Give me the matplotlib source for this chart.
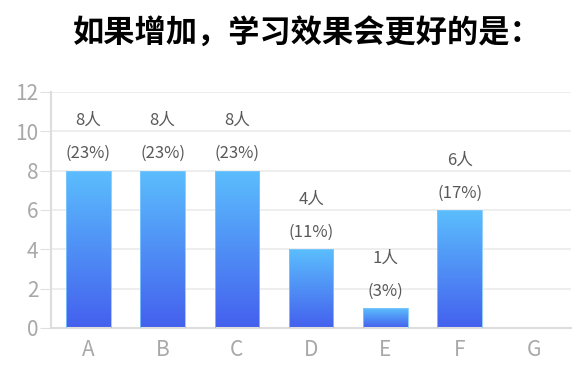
import matplotlib
matplotlib.use('Agg')
import matplotlib.pyplot as plt
import numpy as np
from matplotlib.colors import LinearSegmentedColormap

plt.rcParams['font.family'] = ['Noto Sans CJK SC', 'DejaVu Sans']

categories = ['A', 'B', 'C', 'D', 'E', 'F', 'G']
counts = [8, 8, 8, 4, 1, 6, 0]
percents = ['23%', '23%', '23%', '11%', '3%', '17%', '0%']
title = '如果增加，学习效果会更好的是：'

fig = plt.figure(figsize=(5.87, 3.80), dpi=100)
ax = fig.add_axes([0.087, 0.137, 0.886, 0.621])

grad = LinearSegmentedColormap.from_list('g', ['#4460ee', '#5bbefd'])
x = np.arange(len(categories))
bars = ax.bar(x, counts, width=0.6, color='none', edgecolor='#7fc8ff', linewidth=0.6, zorder=3)
g = np.linspace(0, 1, 256).reshape(-1, 1)
for b, c in zip(bars, counts):
    if c <= 0:
        continue
    x0 = b.get_x()
    im = ax.imshow(g, cmap=grad, origin='lower', aspect='auto',
                   extent=(x0, x0 + b.get_width(), 0, c), zorder=2)
    im.set_clip_path(b)

for xi, c, p in zip(x, counts, percents):
    if c <= 0:
        continue
    ax.annotate(f'{c}人', (xi, c), xytext=(0, 50), textcoords='offset pixels',
                ha='center', va='center', fontsize=12, color='#595959')
    ax.annotate(f'({p})', (xi, c), xytext=(0, 17), textcoords='offset pixels',
                ha='center', va='center', fontsize=12, color='#595959')

ax.set_xlim(-0.5, len(categories) - 0.5)
ax.set_ylim(0, 12)
ax.set_yticks(range(0, 13, 2))
ax.set_xticks(x)
ax.set_xticklabels(categories)
ax.tick_params(axis='x', length=0, pad=8, labelsize=15, labelcolor='#a8a8a8')
ax.tick_params(axis='y', length=8, color='#e0e0e0', pad=1, labelsize=15, labelcolor='#a8a8a8')
ax.grid(axis='y', color='#ebebeb', linewidth=1.2, zorder=0)
ax.set_axisbelow(True)
for s in ['top', 'right']:
    ax.spines[s].set_visible(False)
for s in ['left', 'bottom']:
    ax.spines[s].set_color('#dddddd')
    ax.spines[s].set_linewidth(1.5)

fig.text(0.523, 0.915, title, ha='center', va='center', fontsize=22.5, fontweight='bold', color='#000000')

fig.savefig('out.png', dpi=100)
